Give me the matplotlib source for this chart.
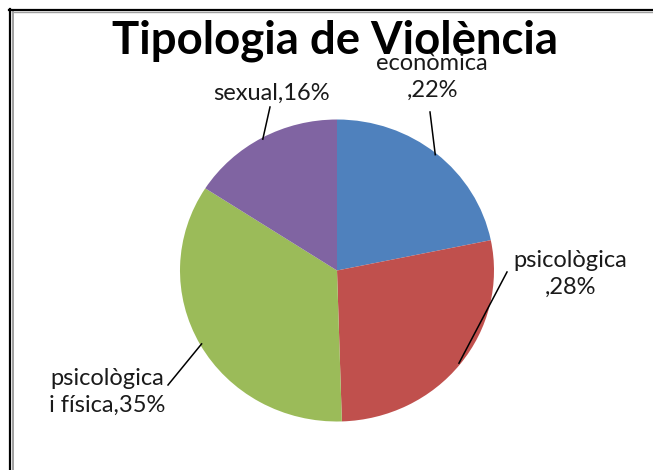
import matplotlib
matplotlib.use("Agg")
import matplotlib.pyplot as plt
import numpy as np
from matplotlib.transforms import Affine2D
from matplotlib.lines import Line2D

title = "Tipologia de Violència"
categories = ["econòmica", "psicològica", "psicològica i física", "sexual"]
values = [22, 28, 35, 16]
labels = ["econòmica\n,22%", "psicològica\n,28%", "psicològica\ni física,35%", "sexual,16%"]
colors = ["#4F81BD", "#C0504D", "#9BBB59", "#8064A2"]

W, H = 653, 470
fig = plt.figure(figsize=(W / 100, H / 100), dpi=100)
ax = fig.add_axes([0, 0, 1, 1])

cx, cy = 337, H - 270.5
rx, ry = 157, 151

wedges, _ = ax.pie(values, colors=colors, startangle=90, counterclock=False,
                   radius=1, center=(0, 0), wedgeprops=dict(linewidth=0))
tr = Affine2D().scale(rx, ry).translate(cx, cy) + ax.transData
for w in wedges:
    w.set_transform(tr)
ax.set_aspect('auto')
ax.set_xlim(0, W)
ax.set_ylim(0, H)
ax.axis('off')

label_pos = [(432, 77), (570, 274), (107, 392), (271, 93)]
leader_end = [(430, 112), (507, 272), (168, 385), (270, 107)]

font = ["Lato", "DejaVu Sans"]
for w, lab, (lx, ly), (ex, ey) in zip(wedges, labels, label_pos, leader_end):
    ang = np.deg2rad((w.theta1 + w.theta2) / 2)
    sx = cx + rx * np.cos(ang) * 0.99
    sy = cy + ry * np.sin(ang) * 0.99
    ax.plot([sx, ex], [sy, H - ey], color="black", lw=1.1, zorder=3)
    ax.text(lx, H - ly, lab, ha="center", va="center", fontsize=17,
            family=font, color="#1a1a1a", linespacing=1.32, zorder=4)

ax.text(335, H - 41, title, ha="center", va="center", fontsize=32.8,
        fontweight="bold", family=font, color="black", zorder=5)

# frame lines
fig.add_artist(Line2D([9.5 / W, 9.5 / W], [0, 1 - 9 / H], color="black", lw=1.6, transform=fig.transFigure))
fig.add_artist(Line2D([13 / W, 13 / W], [0, 1 - 11 / H], color="#a0a0a0", lw=1.4, transform=fig.transFigure))
fig.add_artist(Line2D([8.5 / W, 1], [1 - 10 / H, 1 - 10 / H], color="black", lw=1.6, transform=fig.transFigure))
fig.add_artist(Line2D([12 / W, 1], [1 - 12 / H, 1 - 12 / H], color="#a0a0a0", lw=1.0, transform=fig.transFigure))

fig.savefig("out.png", dpi=100, facecolor="white")
